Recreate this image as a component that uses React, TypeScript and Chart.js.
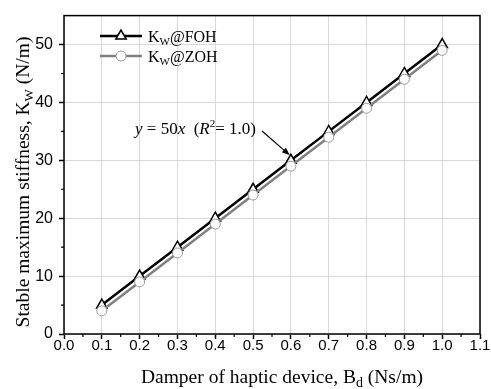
import { useEffect, useRef } from "react";
import { Chart, registerables } from "chart.js";

Chart.register(...registerables);

const damper = [0.1, 0.2, 0.3, 0.4, 0.5, 0.6, 0.7, 0.8, 0.9, 1.0];
const kwFOH = [5, 10, 15, 20, 25, 30, 35, 40, 45, 50];
const kwZOH = [4, 9, 14, 19, 24, 29, 34, 39, 44, 49];
const xTicks = [0, 0.1, 0.2, 0.3, 0.4, 0.5, 0.6, 0.7, 0.8, 0.9, 1.0, 1.1];
const xMinor = [0.05, 0.15, 0.25, 0.35, 0.45, 0.55, 0.65, 0.75, 0.85, 0.95, 1.05];
const yTicks = [0, 10, 20, 30, 40, 50];
const yMinor = [5, 15, 25, 35, 45];
const annotationPoint = { x: 0.6, y: 30 };

type Run = { text: string; font: string; dy?: number };

function runsWidth(ctx: CanvasRenderingContext2D, runs: Run[]) {
  let w = 0;
  for (const r of runs) {
    ctx.font = r.font;
    w += ctx.measureText(r.text).width;
  }
  return w;
}

function drawRuns(ctx: CanvasRenderingContext2D, runs: Run[], x: number, y: number, align: "left" | "center") {
  let cx = align === "center" ? x - runsWidth(ctx, runs) / 2 : x;
  ctx.textAlign = "left";
  ctx.textBaseline = "alphabetic";
  for (const r of runs) {
    ctx.font = r.font;
    ctx.fillText(r.text, cx, y + (r.dy || 0));
    cx += ctx.measureText(r.text).width;
  }
}

const SERIF = '"Liberation Serif", "Times New Roman", serif';

const decorPlugin = {
  id: "decor",
  afterDraw(chart: any) {
    const ctx: CanvasRenderingContext2D = chart.ctx;
    const { left, right, top, bottom } = chart.chartArea;
    const xs = chart.scales.x;
    const ys = chart.scales.y;
    ctx.save();
    // frame
    ctx.strokeStyle = "#000";
    ctx.lineWidth = 1.5;
    ctx.strokeRect(left, top, right - left, bottom - top);
    // minor ticks
    ctx.lineWidth = 1.2;
    ctx.beginPath();
    for (const v of xMinor) {
      const px = xs.getPixelForValue(v);
      ctx.moveTo(px, bottom);
      ctx.lineTo(px, bottom + 3);
    }
    for (const v of yMinor) {
      const py = ys.getPixelForValue(v);
      ctx.moveTo(left, py);
      ctx.lineTo(left - 3, py);
    }
    ctx.stroke();

    ctx.fillStyle = "#000";
    // x title
    drawRuns(
      ctx,
      [
        { text: "Damper of haptic device, B", font: `19.5px ${SERIF}` },
        { text: "d", font: `14px ${SERIF}`, dy: 4 },
        { text: " (Ns/m)", font: `19.5px ${SERIF}` },
      ],
      (left + right) / 2 + 10,
      383,
      "center"
    );
    // y title
    ctx.save();
    ctx.translate(29, 182);
    ctx.rotate(-Math.PI / 2);
    drawRuns(
      ctx,
      [
        { text: "Stable maximum stiffness, K", font: `19.5px ${SERIF}` },
        { text: "W", font: `13px ${SERIF}`, dy: 4 },
        { text: " (N/m)", font: `19.5px ${SERIF}` },
      ],
      0,
      0,
      "center"
    );
    ctx.restore();

    // legend
    const lx0 = 100, lx1 = 142, lm = 121;
    const r1 = 36, r2 = 56;
    ctx.lineWidth = 2.5;
    ctx.strokeStyle = "#000";
    ctx.beginPath();
    ctx.moveTo(lx0, r1);
    ctx.lineTo(lx1, r1);
    ctx.stroke();
    ctx.fillStyle = "#fff";
    ctx.lineWidth = 1.5;
    ctx.beginPath();
    const tr = 6;
    ctx.moveTo(lm, r1 - tr);
    ctx.lineTo(lm + tr * Math.sin((2 * Math.PI) / 3), r1 + tr / 2);
    ctx.lineTo(lm - tr * Math.sin((2 * Math.PI) / 3), r1 + tr / 2);
    ctx.closePath();
    ctx.fill();
    ctx.stroke();

    ctx.strokeStyle = "#808080";
    ctx.lineWidth = 2.5;
    ctx.beginPath();
    ctx.moveTo(lx0, r2);
    ctx.lineTo(lx1, r2);
    ctx.stroke();
    ctx.strokeStyle = "#999";
    ctx.lineWidth = 1;
    ctx.beginPath();
    ctx.arc(lm, r2, 5, 0, Math.PI * 2);
    ctx.fill();
    ctx.stroke();

    ctx.fillStyle = "#000";
    drawRuns(
      ctx,
      [
        { text: "K", font: `16px ${SERIF}` },
        { text: "W", font: `11px ${SERIF}`, dy: 3 },
        { text: "@FOH", font: `16px ${SERIF}` },
      ],
      148,
      42,
      "left"
    );
    drawRuns(
      ctx,
      [
        { text: "K", font: `16px ${SERIF}` },
        { text: "W", font: `11px ${SERIF}`, dy: 3 },
        { text: "@ZOH", font: `16px ${SERIF}` },
      ],
      148,
      62,
      "left"
    );

    // annotation
    drawRuns(
      ctx,
      [
        { text: "y", font: `italic 17px ${SERIF}` },
        { text: " = 50", font: `17px ${SERIF}` },
        { text: "x", font: `italic 17px ${SERIF}` },
        { text: "  (", font: `17px ${SERIF}` },
        { text: "R", font: `italic 17px ${SERIF}` },
        { text: "2", font: `11px ${SERIF}`, dy: -7 },
        { text: "= 1.0)", font: `17px ${SERIF}` },
      ],
      135,
      134,
      "left"
    );
    const tipX = xs.getPixelForValue(annotationPoint.x) - 1;
    const tipY = ys.getPixelForValue(annotationPoint.y) - 5;
    const sx = 262, sy = 131;
    const ang = Math.atan2(tipY - sy, tipX - sx);
    ctx.strokeStyle = "#000";
    ctx.lineWidth = 1.2;
    ctx.beginPath();
    ctx.moveTo(sx, sy);
    ctx.lineTo(tipX - 6 * Math.cos(ang), tipY - 6 * Math.sin(ang));
    ctx.stroke();
    ctx.beginPath();
    ctx.moveTo(tipX, tipY);
    ctx.lineTo(tipX - 8 * Math.cos(ang) + 3 * Math.sin(ang), tipY - 8 * Math.sin(ang) - 3 * Math.cos(ang));
    ctx.lineTo(tipX - 8 * Math.cos(ang) - 3 * Math.sin(ang), tipY - 8 * Math.sin(ang) + 3 * Math.cos(ang));
    ctx.closePath();
    ctx.fill();
    ctx.restore();
  },
};

export default function App() {
  const ref = useRef<HTMLCanvasElement>(null);
  useEffect(() => {
    const chart = new Chart(ref.current!, {
      type: "line",
      data: {
        datasets: [
          {
            label: "Kw@ZOH",
            data: damper.map((x, i) => ({ x, y: kwZOH[i] })),
            borderColor: "#808080",
            borderWidth: 2.5,
            pointStyle: "circle",
            pointRadius: 5,
            pointBackgroundColor: "#fff",
            pointBorderColor: "#999",
            pointBorderWidth: 1,
            order: 0,
          },
          {
            label: "Kw@FOH",
            data: damper.map((x, i) => ({ x, y: kwFOH[i] })),
            borderColor: "#000",
            borderWidth: 2.5,
            pointStyle: "triangle",
            pointRadius: 6,
            pointBackgroundColor: "#fff",
            pointBorderColor: "#000",
            pointBorderWidth: 1.5,
            order: 1,
          },
        ],
      },
      options: {
        animation: false,
        responsive: false,
        devicePixelRatio: 1,
        layout: { padding: { left: 0, top: 10, right: 11, bottom: 0 } },
        plugins: { legend: { display: false }, tooltip: { enabled: false } },
        scales: {
          x: {
            type: "linear",
            min: xTicks[0],
            max: xTicks[xTicks.length - 1],
            afterBuildTicks: (s: any) => {
              s.ticks = xTicks.map((v) => ({ value: v }));
            },
            afterFit: (s: any) => {
              s.height = 55;
            },
            border: { display: false },
            grid: { color: "#d9d9d9", lineWidth: 1, tickColor: "#000", tickLength: 5, tickWidth: 1.5 },
            ticks: {
              autoSkip: false,
              maxRotation: 0,
              padding: -2,
              color: "#000",
              font: { family: '"Liberation Sans", Arial, sans-serif', size: 15 },
              callback: (v: any) => Number(v).toFixed(1),
            },
          },
          y: {
            type: "linear",
            min: 0,
            max: 55,
            afterBuildTicks: (s: any) => {
              s.ticks = yTicks.map((v) => ({ value: v }));
            },
            afterFit: (s: any) => {
              s.width = 64;
            },
            border: { display: false },
            grid: { color: "#d9d9d9", lineWidth: 1, tickColor: "#000", tickLength: 5, tickWidth: 1.5 },
            ticks: {
              autoSkip: false,
              padding: 6,
              color: "#000",
              font: { family: '"Liberation Sans", Arial, sans-serif', size: 16 },
            },
          },
        },
      },
      plugins: [decorPlugin],
    } as any);
    return () => chart.destroy();
  }, []);
  return (
    <div style={{ position: "fixed", left: 0, top: 0, width: 491, height: 389, background: "#fff" }}>
      <canvas ref={ref} width={491} height={389} style={{ width: 491, height: 389, display: "block" }} />
    </div>
  );
}
